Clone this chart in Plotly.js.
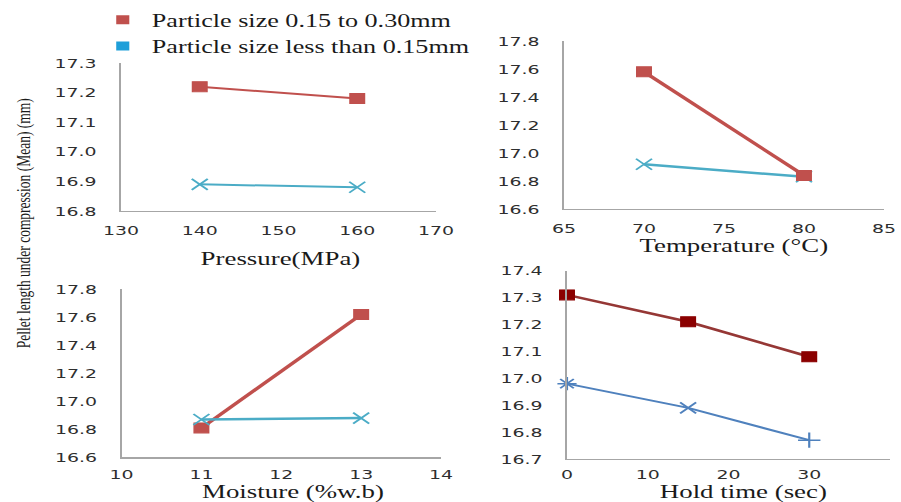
<!DOCTYPE html>
<html>
<head>
<meta charset="utf-8">
<script src="https://cdn.plot.ly/plotly-3.0.1.min.js"></script>
<style>
  html, body { margin: 0; padding: 0; background: #ffffff; overflow: hidden; }
  #wrap { width: 901px; height: 502px; overflow: hidden; position: relative; }
  #plot { width: 620px; height: 502px; transform: scale(1.4532, 1); transform-origin: 0 0; }
</style>
</head>
<body>
<div id="wrap"><div id="plot"></div></div>
<script>
// ---- data ----
const seriesNames = ["Particle size 0.15 to 0.30mm", "Particle size less than 0.15mm"];
const yAxisTitle = "Pellet length under compression (Mean) (mm)";
const xTitles = ["Pressure(MPa)", "Temperature (\u00B0C)", "Moisture (%w.b)", "Hold time (sec)"];

const pressure = [140, 160];
const pressureCoarse = [17.22, 17.18];
const pressureFine = [16.89, 16.88];

const temperature = [70, 80];
const temperatureCoarse = [17.58, 16.84];
const temperatureFine = [16.92, 16.83];

const moisture = [11, 13];
const moistureCoarse = [16.81, 17.62];
const moistureFine = [16.87, 16.88];

const holdTime = [0, 15, 30];
const holdCoarse = [17.31, 17.21, 17.08];
const holdFine = [16.98, 16.89, 16.77];

const xRanges = [[130, 170], [65, 85], [10, 14], [0, 40]];
const xSteps = [10, 5, 1, 10];
const yRanges = [[16.8, 17.3], [16.6, 17.8], [16.6, 17.8], [16.7, 17.4]];
const ySteps = [0.1, 0.2, 0.2, 0.1];

// ---- styles ----
const SERIF = "Liberation Serif";
const RED = "#C0504D", TEAL = "#4BACC6";
const DARKRED_LINE = "#953735", DARKRED_MK = "#8B0000", BLUE = "#4F81BD";

function coarse(x, y, xa, ya, lw, mcol, lcol) {
  return { x: x, y: y, xaxis: xa, yaxis: ya, type: "scatter", mode: "lines+markers",
    showlegend: false, cliponaxis: false,
    line: { color: lcol || RED, width: lw },
    marker: { symbol: "square", size: 10, color: mcol || RED, line: { color: mcol || RED, width: 1 } } };
}
function fine(x, y, xa, ya, lw, col, symbols) {
  return { x: x, y: y, xaxis: xa, yaxis: ya, type: "scatter", mode: "lines+markers",
    showlegend: false, cliponaxis: false,
    line: { color: col || TEAL, width: lw },
    marker: { symbol: symbols || "x-thin-open", size: 11, color: col || TEAL, line: { color: "#7E9BC8", width: 1.5 } } };
}

const traces = [
  fine(pressure, pressureFine, "x", "y", 2),
  coarse(pressure, pressureCoarse, "x", "y", 2),
  fine(temperature, temperatureFine, "x2", "y2", 2.5),
  coarse(temperature, temperatureCoarse, "x2", "y2", 3),
  coarse(moisture, moistureCoarse, "x3", "y3", 3),
  fine(moisture, moistureFine, "x3", "y3", 2.5),
  coarse(holdTime, holdCoarse, "x4", "y4", 2.5, DARKRED_MK, DARKRED_LINE),
  fine(holdTime, holdFine, "x4", "y4", 2, BLUE, ["asterisk-open", "x-thin-open", "cross-thin-open"]),
  { x: [null], y: [null], xaxis: "x", yaxis: "y", type: "scatter", mode: "markers", name: seriesNames[0],
    marker: { symbol: "square", size: 9, color: RED } },
  { x: [null], y: [null], xaxis: "x", yaxis: "y", type: "scatter", mode: "markers", name: seriesNames[1],
    marker: { symbol: "square", size: 9, color: "#1E9FD9" } }
];

const tickFont = { family: "DejaVu Sans", size: 13, color: "#2e2e2e" };
const xDomains = [[0.1343, 0.4839], [0.626, 0.9811], [0.1349, 0.4895], [0.6293, 0.9878]];
const yDomains = [[0.5797, 0.8745], [0.5837, 0.9183], [0.0890, 0.4237], [0.0857, 0.4608]];
const xStandoffs = [7, 7, 5, 3];

function xAxis(i) {
  return { domain: xDomains[i], range: xRanges[i], dtick: xSteps[i], tick0: 0, anchor: "y" + (i ? i + 1 : ""),
    showgrid: false, zeroline: false, showline: true, linecolor: "#a6a6a6", linewidth: 1.5,
    ticks: "", tickfont: tickFont, ticklabelstandoff: xStandoffs[i], fixedrange: true };
}
function yAxis(i) {
  return { domain: yDomains[i], range: yRanges[i], dtick: ySteps[i], tick0: 0, tickformat: ".1f",
    anchor: "x" + (i ? i + 1 : ""),
    showgrid: false, zeroline: false, showline: true, linecolor: "#a6a6a6", linewidth: 1.2,
    ticks: "", tickfont: tickFont, ticklabelstandoff: 13, fixedrange: true };
}

const xTitlePos = [[0.3108, 0.484], [0.8147, 0.508], [0.3248, 0.019], [0.8253, 0.018]];
const annotations = xTitles.map((t, i) => ({
  text: t, xref: "paper", yref: "paper", x: xTitlePos[i][0], y: xTitlePos[i][1],
  xanchor: "center", yanchor: "middle", showarrow: false,
  font: { family: SERIF, size: 18.5, color: "#1a1a1a" }
}));
annotations.push({ text: yAxisTitle, xref: "paper", yref: "paper", x: 0.0255, y: 0.555,
  xanchor: "center", yanchor: "middle", textangle: -90, showarrow: false,
  font: { family: SERIF, size: 13.5, color: "#1a1a1a" } });

const layout = {
  width: 620, height: 502,
  margin: { l: 0, r: 0, t: 0, b: 0 },
  font: { family: SERIF, size: 18, color: "#1a1a1a" },
  paper_bgcolor: "#ffffff", plot_bgcolor: "#ffffff",
  showlegend: true,
  legend: { x: 0.104, y: 0.997, xanchor: "left", yanchor: "top", bgcolor: "rgba(0,0,0,0)",
    font: { family: SERIF, size: 18, color: "#1a1a1a" }, tracegroupgap: 0, itemclick: false },
  annotations: annotations,
  xaxis: xAxis(0), yaxis: yAxis(0),
  xaxis2: xAxis(1), yaxis2: yAxis(1),
  xaxis3: xAxis(2), yaxis3: yAxis(2),
  xaxis4: xAxis(3), yaxis4: yAxis(3)
};

Plotly.newPlot("plot", traces, layout, { displayModeBar: false, staticPlot: true });
</script>
</body>
</html>
